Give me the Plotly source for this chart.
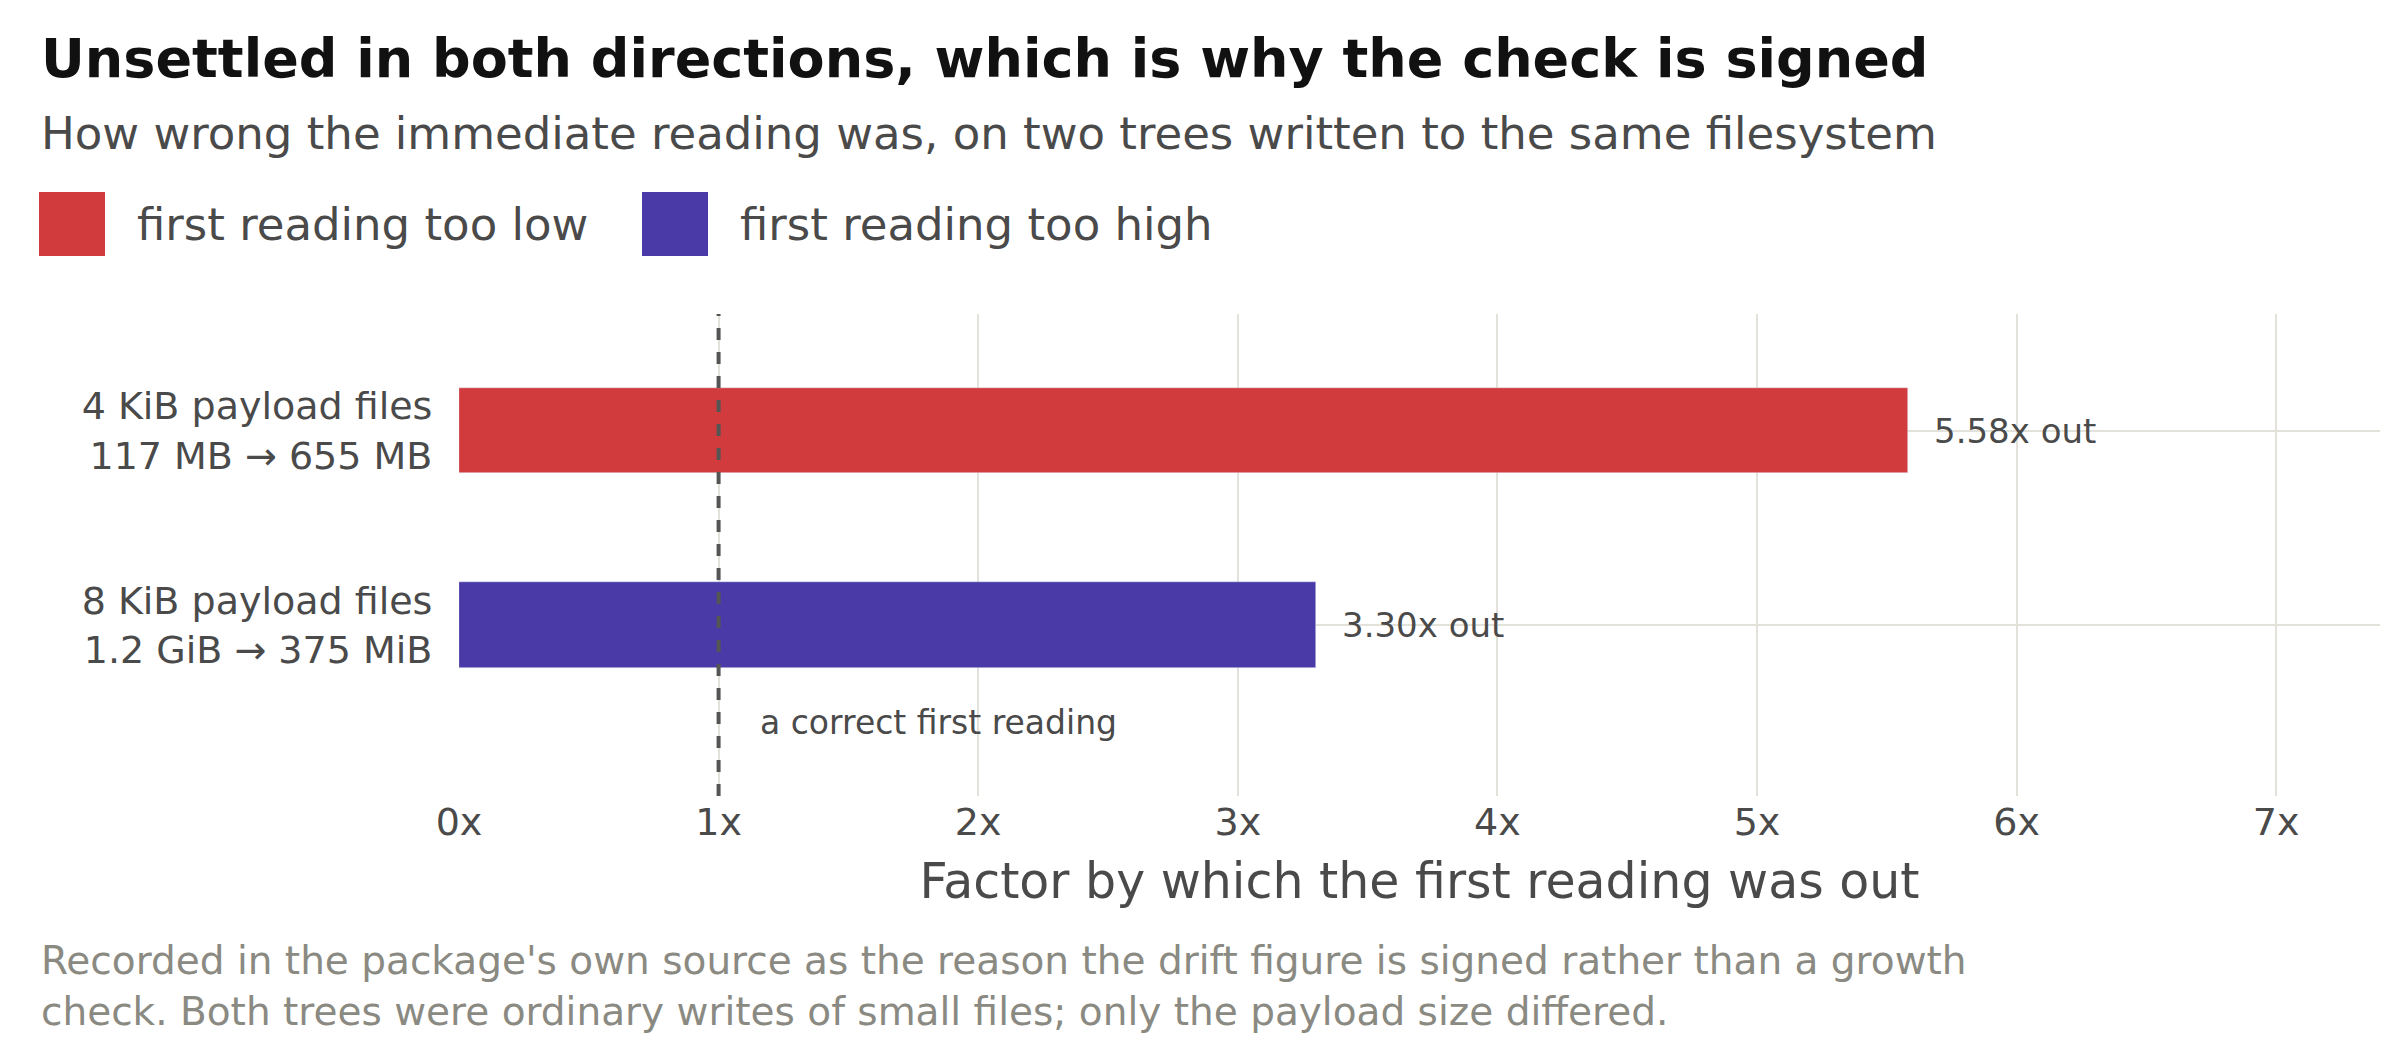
import plotly.graph_objects as go

categories = ["4 KiB payload files<br>117 MB → 655 MB", "8 KiB payload files<br>1.2 GiB → 375 MiB"]
factors = [5.58, 3.30]
series_names = ["first reading too low", "first reading too high"]
colors = ["#d13b3d", "#4a3aa8"]
ypos = [1, 0]
tick_vals = [0, 1, 2, 3, 4, 5, 6, 7]
tick_text = ["0x", "1x", "2x", "3x", "4x", "5x", "6x", "7x"]

PH = 482  # plot height in px, for placing header items

fig = go.Figure()
for cat, f, name, c, y in zip(categories, factors, series_names, colors, ypos):
    fig.add_trace(go.Bar(x=[f], y=[y], orientation="h", name=name, marker_color=c,
                         width=0.44, showlegend=False))
    fig.add_annotation(x=f, y=y, text=f"{f:.2f}x out", showarrow=False, xanchor="left",
                       xshift=24, font=dict(size=34, color="#4a4a4a"))

fig.add_vline(x=1, line=dict(color="#555555", width=4, dash="dash"))
fig.add_annotation(x=1.15, y=-0.5, text="a correct first reading", showarrow=False,
                   xanchor="left", font=dict(size=33, color="#4a4a4a"))

# title and subtitle
fig.add_annotation(xref="paper", yref="paper", x=-420/1921, y=1 + 256/PH, xanchor="left",
                   yanchor="middle", showarrow=False,
                   text="<b>Unsettled in both directions, which is why the check is signed</b>",
                   font=dict(size=54, color="#111111"))
fig.add_annotation(xref="paper", yref="paper", x=-420/1921, y=1 + 181/PH, xanchor="left",
                   yanchor="middle", showarrow=False,
                   text="How wrong the immediate reading was, on two trees written to the same filesystem",
                   font=dict(size=45, color="#4a4a4a"))

# legend drawn by hand
legend_x = [-420/1921, 183/1921]
for lx, name, c in zip(legend_x, series_names, colors):
    fig.add_shape(type="rect", xref="paper", yref="paper", x0=lx, x1=lx + 66/1921,
                  y0=1 + 58/PH, y1=1 + 122/PH, fillcolor=c, line_width=0)
    fig.add_annotation(xref="paper", yref="paper", x=lx + 96/1921, y=1 + 90/PH, text=name,
                       showarrow=False, xanchor="left", yanchor="middle",
                       font=dict(size=45, color="#4a4a4a"))

fig.update_layout(
    width=2400, height=1050, plot_bgcolor="white", paper_bgcolor="white",
    font=dict(family="DejaVu Sans", color="#4a4a4a"),
    margin=dict(l=451, r=28, t=306, b=262),
    bargap=0,
    xaxis=dict(range=[0, 7.4], tickvals=tick_vals, ticktext=tick_text,
               tickfont=dict(size=38, color="#4a4a4a"), showgrid=True,
               gridcolor="#e2e2da", gridwidth=2, zeroline=False,
               title=dict(text="Factor by which the first reading was out",
                          font=dict(size=49, color="#4a4a4a"), standoff=20)),
    yaxis=dict(range=[-0.88, 1.6], tickvals=ypos, ticktext=categories,
               tickfont=dict(size=38, color="#4a4a4a"), showgrid=True,
               gridcolor="#e2e2da", gridwidth=2, zeroline=False, ticks="outside",
               ticklen=18, tickcolor="white"),
)
fig.add_annotation(xref="paper", yref="paper", x=-420/1921, y=-0.29,
                   xanchor="left", yanchor="top", align="left", showarrow=False,
                   text="Recorded in the package's own source as the reason the drift figure is signed rather than a growth<br>"
                        "check. Both trees were ordinary writes of small files; only the payload size differed.",
                   font=dict(size=39, color="#8a8a82"))
fig.write_html("out.html")
